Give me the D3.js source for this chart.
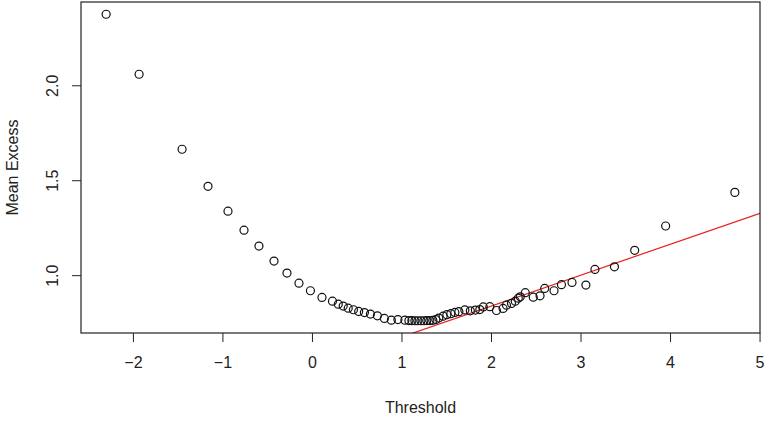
<!DOCTYPE html>
<html>
<head>
<meta charset="utf-8">
<script src="https://cdn.jsdelivr.net/npm/d3@7"></script>
<style>
  body { margin: 0; background: #fff; }
  svg { display: block; font-family: "Liberation Sans", Arial, sans-serif; }
</style>
</head>
<body>
<div id="chart"></div>
<script>
// Seuils et excès moyens
const threshold = [
  -2.299, -1.931, -1.451, -1.161, -0.938, -0.759, -0.592, -0.424, -0.279, -0.145,
  -0.017, 0.112, 0.229, 0.294, 0.349, 0.405, 0.463, 0.522, 0.586, 0.653,
  0.731, 0.809, 0.887, 0.960, 1.038, 1.083, 1.116, 1.150, 1.183, 1.217,
  1.250, 1.283, 1.317, 1.350, 1.384, 1.417, 1.465, 1.507, 1.551, 1.596,
  1.641, 1.708, 1.769, 1.825, 1.875, 1.914, 1.987, 2.061, 2.135, 2.173,
  2.229, 2.271, 2.305, 2.327, 2.383, 2.472, 2.548, 2.600, 2.704, 2.787,
  2.905, 3.060, 3.161, 3.379, 3.605, 3.951, 4.724
];
const meanExcess = [
  2.374, 2.058, 1.663, 1.468, 1.337, 1.237, 1.153, 1.074, 1.011, 0.958,
  0.918, 0.883, 0.863, 0.847, 0.837, 0.826, 0.818, 0.809, 0.803, 0.795,
  0.786, 0.772, 0.763, 0.766, 0.763, 0.761, 0.761, 0.760, 0.760, 0.760,
  0.760, 0.761, 0.761, 0.762, 0.766, 0.774, 0.784, 0.792, 0.797, 0.804,
  0.808, 0.817, 0.812, 0.816, 0.819, 0.833, 0.834, 0.814, 0.825, 0.842,
  0.851, 0.863, 0.879, 0.886, 0.908, 0.884, 0.891, 0.930, 0.918, 0.950,
  0.962, 0.948, 1.030, 1.044, 1.131, 1.259, 1.436
];
const xTicks = [-2, -1, 0, 1, 2, 3, 4, 5];
const yTicks = [1.0, 1.5, 2.0];

// droite ajustée (rouge)
const fitIntercept = 0.5115;
const fitSlope = 0.1627;

const W = 769, H = 427;
const margin = {top: 2, right: 9, bottom: 94, left: 81};
const width = W - margin.left - margin.right;
const height = H - margin.top - margin.bottom;

const data = threshold.map((t, i) => ({x: t, y: meanExcess[i]}));

// comme R : étendue des données + 4 % de chaque côté
function padded(ext) {
  const p = (ext[1] - ext[0]) * 0.04;
  return [ext[0] - p, ext[1] + p];
}

const x = d3.scaleLinear().domain(padded(d3.extent(threshold))).range([0, width]);
const y = d3.scaleLinear().domain(padded(d3.extent(meanExcess))).range([height, 0]);

const svg = d3.select("#chart").append("svg")
  .attr("width", W).attr("height", H);

svg.append("defs").append("clipPath").attr("id", "plot-clip")
  .append("rect").attr("width", width).attr("height", height);

const g = svg.append("g").attr("transform", `translate(${margin.left},${margin.top})`);

// axe X
const xAxisG = g.append("g")
  .attr("transform", `translate(0,${height})`)
  .call(d3.axisBottom(x).tickValues(xTicks).tickSize(9).tickPadding(15));
xAxisG.select(".domain").remove();
xAxisG.selectAll(".tick line").attr("stroke", "#222").attr("stroke-width", 1);
xAxisG.selectAll(".tick text").attr("fill", "#222").style("font-size", "16px");

// axe Y (étiquettes verticales, comme las=0 dans R)
const yAxisG = g.append("g")
  .call(d3.axisLeft(y).tickValues(yTicks).tickSize(9).tickFormat(d3.format(".1f")));
yAxisG.select(".domain").remove();
yAxisG.selectAll(".tick line").attr("stroke", "#222").attr("stroke-width", 1);
yAxisG.selectAll(".tick text")
  .attr("fill", "#222").style("font-size", "16px")
  .attr("x", null).attr("dy", null)
  .attr("text-anchor", "middle")
  .attr("transform", "translate(-23,0) rotate(-90)");

// droite rouge
g.append("line")
  .attr("clip-path", "url(#plot-clip)")
  .attr("x1", x(x.domain()[0])).attr("y1", y(fitIntercept + fitSlope * x.domain()[0]))
  .attr("x2", x(x.domain()[1])).attr("y2", y(fitIntercept + fitSlope * x.domain()[1]))
  .attr("stroke", "#e8201c").attr("stroke-width", 1.2);

// points
g.selectAll(".dot")
  .data(data)
  .join("circle")
  .attr("class", "dot")
  .attr("cx", d => x(d.x))
  .attr("cy", d => y(d.y))
  .attr("r", 4)
  .attr("fill", "none")
  .attr("stroke", "#111")
  .attr("stroke-width", 1.2);

// cadre
g.append("rect")
  .attr("width", width).attr("height", height)
  .attr("fill", "none").attr("stroke", "#222").attr("stroke-width", 1.2);

// titres des axes
svg.append("text")
  .attr("x", margin.left + width / 2).attr("y", 413)
  .attr("text-anchor", "middle").attr("fill", "#222").style("font-size", "16px")
  .text("Threshold");

svg.append("text")
  .attr("transform", `translate(18,${margin.top + height / 2}) rotate(-90)`)
  .attr("text-anchor", "middle").attr("fill", "#222").style("font-size", "16px")
  .text("Mean Excess");
</script>
</body>
</html>
